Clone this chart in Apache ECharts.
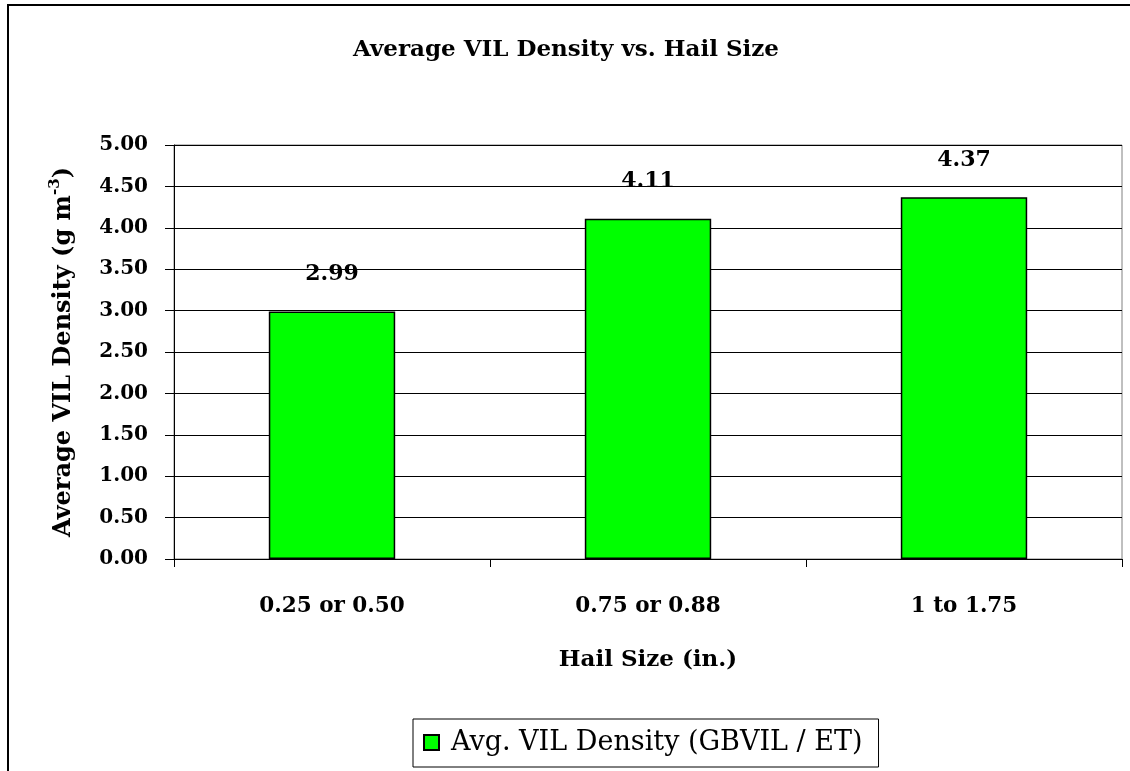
<!DOCTYPE html>
<html>
<head>
<meta charset="utf-8">
<script src="https://cdn.jsdelivr.net/npm/echarts@6/dist/echarts.min.js"></script>
<style>
  html, body { margin: 0; padding: 0; background: #fff; }
  #chart { width: 1130px; height: 771px; }
</style>
</head>
<body>
<div id="chart"></div>
<script>
// data
const hailSizes = ['0.25 or 0.50', '0.75 or 0.88', '1 to 1.75'];
const vilDensity = [2.99, 4.11, 4.37];
const seriesName = 'Avg. VIL Density (GBVIL / ET)';

const serif = '"DejaVu Serif", "Liberation Serif", serif';

const chart = echarts.init(document.getElementById('chart'));

const option = {
  animation: false,
  backgroundColor: '#fff',
  title: {
    text: 'Average VIL Density vs. Hail Size',
    left: 561,
    textAlign: 'center',
    top: 34,
    textStyle: { fontFamily: serif, fontWeight: 'bold', fontSize: 23, color: '#000' }
  },
  graphic: [
    {
      type: 'rect',
      shape: { x: 8, y: 5, width: 1300, height: 900 },
      style: { fill: null, stroke: '#000', lineWidth: 2 },
      silent: true
    }
  ],
  legend: {
    data: [seriesName],
    left: 413,
    top: 719,
    padding: [10, 16, 11, 10],
    borderColor: '#000',
    borderWidth: 1,
    itemWidth: 15,
    itemHeight: 15,
    icon: 'rect',
    textStyle: { fontFamily: serif, fontSize: 27, color: '#000', padding: [0, 0, 0, 7] }
  },
  grid: {
    left: 174,
    right: 8,
    top: 145,
    bottom: 212,
    show: true,
    borderColor: '#808080',
    borderWidth: 1
  },
  xAxis: {
    type: 'category',
    data: hailSizes,
    name: 'Hail Size (in.)',
    nameLocation: 'middle',
    nameGap: 90,
    nameTextStyle: { fontFamily: serif, fontWeight: 'bold', fontSize: 23, color: '#000' },
    axisLine: { lineStyle: { color: '#000', width: 1 } },
    axisTick: { show: true, length: 8, inside: false, lineStyle: { color: '#000' } },
    axisLabel: { margin: 36, fontFamily: serif, fontWeight: 'bold', fontSize: 21.5, color: '#000' }
  },
  yAxis: {
    type: 'value',
    min: 0,
    max: 5,
    interval: 0.5,
    name: 'Average VIL Density (g m{sup|-3})',
    nameLocation: 'middle',
    nameGap: 95,
    nameRotate: 90,
    nameTextStyle: {
      fontFamily: serif, fontWeight: 'bold', fontSize: 24, color: '#000',
      rich: {
        sup: { fontFamily: serif, fontWeight: 'bold', fontSize: 15, color: '#000', padding: [0, 0, 16, 0] }
      }
    },
    axisLine: { show: true, lineStyle: { color: '#000', width: 1 } },
    axisTick: { show: true, length: 9, lineStyle: { color: '#000' } },
    axisLabel: {
      margin: 26,
      fontFamily: serif, fontWeight: 'bold', fontSize: 20, color: '#000',
      formatter: v => v.toFixed(2)
    },
    splitLine: { show: true, lineStyle: { color: '#000', width: 1 } }
  },
  series: [
    {
      name: seriesName,
      type: 'bar',
      data: vilDensity,
      barWidth: '40%',
      itemStyle: { color: '#00ff00', borderColor: '#000', borderWidth: 1.5 },
      label: {
        show: true,
        position: 'top',
        distance: 26,
        fontFamily: serif, fontWeight: 'bold', fontSize: 22, color: '#000',
        formatter: p => p.value.toFixed(2)
      }
    }
  ]
};

chart.setOption(option);
</script>
</body>
</html>
